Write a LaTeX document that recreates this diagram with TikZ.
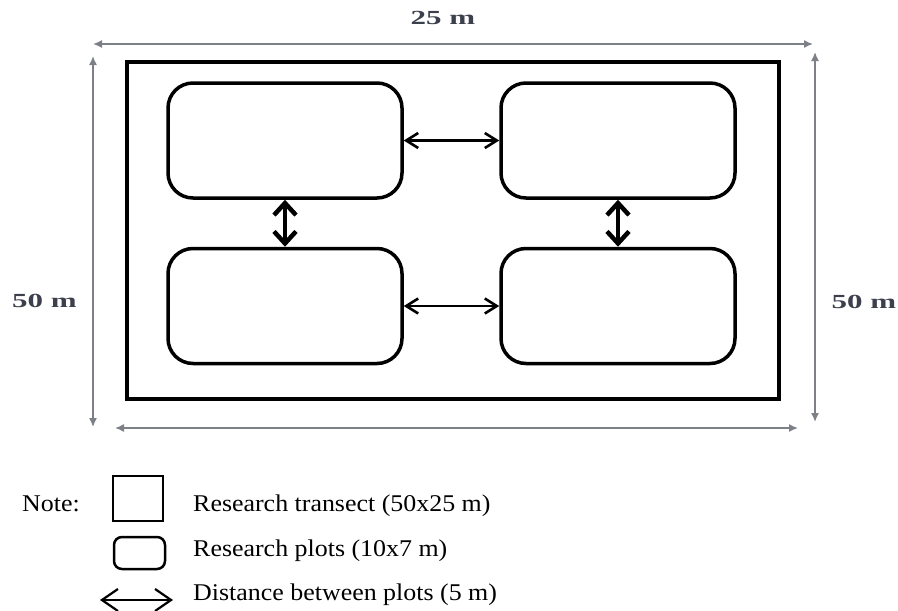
\documentclass[tikz,border=0pt]{standalone}
\usepackage{fontspec}
\setmainfont{Liberation Serif}
\usetikzlibrary{arrows.meta}
\definecolor{dimln}{RGB}{125,128,135}
\definecolor{dimtxt}{RGB}{60,64,76}
\begin{document}
\begin{tikzpicture}[x=1pt,y=-1pt,
  dimline/.style={draw=dimln, line width=1.5pt, {Latex[length=9pt,width=8pt]}-{Latex[length=9pt,width=8pt]}},
  dimlabel/.style={text=dimtxt, font=\fontsize{20}{20}\selectfont\bfseries, xscale=1.55, inner sep=0},
  transect/.style={draw, line width=4pt, inner sep=0},
  plotbox/.style={draw, line width=3.5pt, rounded corners=25pt, minimum width=234pt, minimum height=115pt, inner sep=0},
  harrow/.style={line width=2.6pt, {Straight Barb[length=12pt,width=15pt]}-{Straight Barb[length=12pt,width=15pt]}},
  varrow/.style={line width=4.5pt, {Straight Barb[length=12pt,width=22pt]}-{Straight Barb[length=12pt,width=22pt]}},
  lgtext/.style={font=\fontsize{24}{24}\selectfont, xscale=1.08, inner sep=0, anchor=base west},
  lgsym/.style={draw, line width=2.5pt, inner sep=0}
]
\useasboundingbox (0,0) rectangle (898,611);

% dimension lines
\coordinate (t1) at (93,44);  \coordinate (t2) at (813,44);
\coordinate (r1) at (815,52); \coordinate (r2) at (815,422);
\coordinate (b1) at (115,428);\coordinate (b2) at (798,428);
\coordinate (l1) at (93,56);  \coordinate (l2) at (93,427);
\draw[dimline] (t1) -- (t2);
\draw[dimline] (r1) -- (r2);
\draw[dimline] (b1) -- (b2);
\draw[dimline] (l1) -- (l2);
\node[dimlabel] (lab25) at (443,18) {25 m};
\node[dimlabel] (lab50l) at (44.5,301) {50 m};
\node[dimlabel] (lab50r) at (864,302) {50 m};

% transect
\node[transect, minimum width=652pt, minimum height=337pt] (tr) at (453,230.5) {};

% plots
\node[plotbox] (tl) at (285,140.5) {};
\node[plotbox] (trp) at (618,140.5) {};
\node[plotbox] (bl) at (285,306) {};
\node[plotbox] (br) at (618,306) {};

\draw[harrow] (tl.east) -- (trp.west);
\draw[harrow] (bl.east) -- (br.west);
\draw[varrow] (tl.south) -- (bl.north);
\draw[varrow] (trp.south) -- (br.north);

% legend
\node[lgtext] (note) at (22,511) {Note:};
\node[lgsym, minimum width=50pt, minimum height=45pt] (lsq) at (138,498.5) {};
\node[lgsym, rounded corners=8pt, minimum width=51pt, minimum height=32pt] (lrr) at (139.5,553) {};
\coordinate (la1) at (100,600); \coordinate (la2) at (173,600);
\draw[line width=2.2pt, {Straight Barb[length=16pt,width=22pt]}-{Straight Barb[length=16pt,width=22pt]}] (la1) -- (la2);
\node[lgtext] (lt1) at (193,511) {Research transect (50x25 m)};
\node[lgtext] (lt2) at (193,556) {Research plots (10x7 m)};
\node[lgtext] (lt3) at (193,600) {Distance between plots (5 m)};
\end{tikzpicture}
\end{document}
